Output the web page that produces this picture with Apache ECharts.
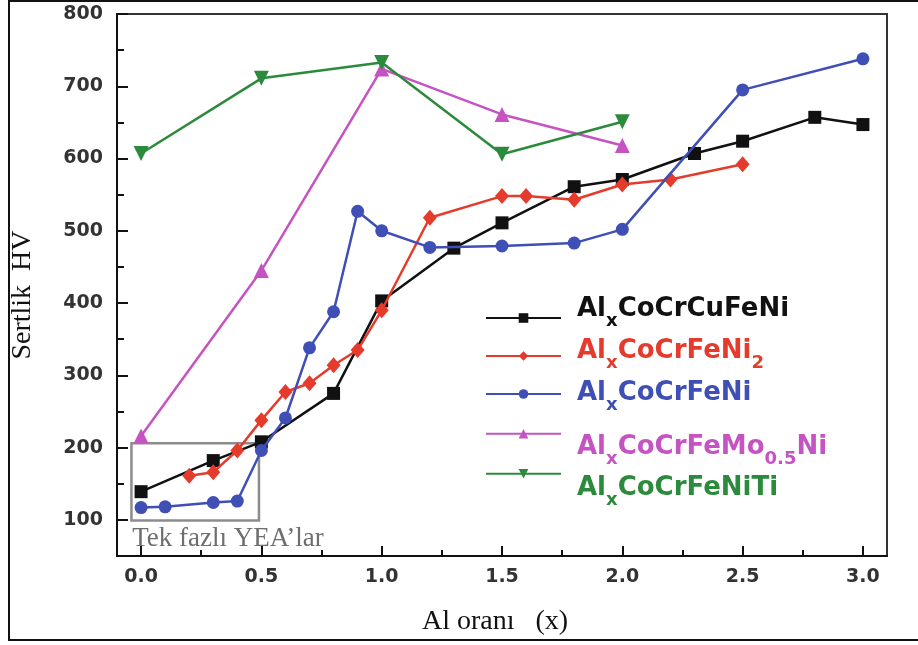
<!DOCTYPE html>
<html>
<head>
<meta charset="utf-8">
<script src="https://cdn.jsdelivr.net/npm/echarts@6/dist/echarts.min.js"></script>
<style>
html, body { margin: 0; padding: 0; background: #fff; }
#chart { width: 918px; height: 645px; }
</style>
</head>
<body>
<div id="chart"></div>
<script>
// Al ratio (x) and Vickers hardness (HV) for each high-entropy alloy family
const cuX  = [0, 0.3, 0.5, 0.8, 1.0, 1.3, 1.5, 1.8, 2.0, 2.3, 2.5, 2.8, 3.0];
const cuHV = [139, 182, 208, 275, 403, 476, 511, 561, 571, 607, 624, 657, 647];

const ni2X  = [0.2, 0.3, 0.4, 0.5, 0.6, 0.7, 0.8, 0.9, 1.0, 1.2, 1.5, 1.6, 1.8, 2.0, 2.2, 2.5];
const ni2HV = [161, 166, 196, 238, 277, 289, 314, 335, 390, 518, 548, 548, 543, 564, 571, 592];

const niX  = [0, 0.1, 0.3, 0.4, 0.5, 0.6, 0.7, 0.8, 0.9, 1.0, 1.2, 1.5, 1.8, 2.0, 2.5, 3.0];
const niHV = [117, 118, 124, 126, 196, 241, 338, 388, 527, 500, 477, 479, 483, 502, 695, 738];

const moX  = [0, 0.5, 1.0, 1.5, 2.0];
const moHV = [216, 445, 724, 661, 618];

const tiX  = [0, 0.5, 1.0, 1.5, 2.0];
const tiHV = [607, 711, 733, 606, 651];

// Alloy names: plain text for series, parts for sub/normal formatting in the legend
const seriesNames = ['AlxCoCrCuFeNi', 'AlxCoCrFeNi2', 'AlxCoCrFeNi', 'AlxCoCrFeMo0.5Ni', 'AlxCoCrFeNiTi'];
const nameParts = [
  [['m', 'Al'], ['s', 'x'], ['m', 'CoCrCuFeNi']],
  [['m', 'Al'], ['s', 'x'], ['m', 'CoCrFeNi'], ['s', '2']],
  [['m', 'Al'], ['s', 'x'], ['m', 'CoCrFeNi']],
  [['m', 'Al'], ['s', 'x'], ['m', 'CoCrFeMo'], ['s', '0.5'], ['m', 'Ni']],
  [['m', 'Al'], ['s', 'x'], ['m', 'CoCrFeNiTi']]
];

// Axis ticks
const xTicks = [0, 0.5, 1.0, 1.5, 2.0, 2.5, 3.0];
const xMinorTicks = [0.25, 0.75, 1.25, 1.75, 2.25, 2.75];
const yTicks = [100, 200, 300, 400, 500, 600, 700, 800];
const yMinorTicks = [150, 250, 350, 450, 550, 650, 750];

// Single-phase alloy region
const singlePhaseX = [-0.04, 0.49];
const singlePhaseHV = [99, 206];
const singlePhaseLabel = 'Tek fazlı YEA’lar';

const colors = ['#111111', '#e53b2c', '#3f4fb5', '#c653c2', '#2b8a3b'];
const symbols = ['rect', 'diamond', 'circle', 'triangle', 'triangle'];
const symbolSizes = [13, [14, 16], 13, 15, 15];
const symbolRotates = [0, 0, 0, 0, 180];

const seriesX = [cuX, ni2X, niX, moX, tiX];
const seriesY = [cuHV, ni2HV, niHV, moHV, tiHV];

const zip = (xs, ys) => xs.map((x, i) => [x, ys[i]]);

const X_MIN = -0.1, X_MAX = 3.1, Y_MIN = 50, Y_MAX = 800;

const tickFont = { fontFamily: 'DejaVu Sans', fontWeight: 'bold', fontSize: 19, color: '#333' };

const series = seriesNames.map((name, i) => {
  const s = {
    name: name,
    type: 'line',
    xAxisIndex: 0,
    yAxisIndex: 0,
    data: zip(seriesX[i], seriesY[i]),
    symbol: symbols[i],
    symbolSize: symbolSizes[i],
    symbolRotate: symbolRotates[i],
    showAllSymbol: true,
    lineStyle: { color: colors[i], width: 2.5 },
    itemStyle: { color: colors[i] },
    z: 3 + i,
    animation: false
  };
  if (i === 2) {
    s.markArea = {
      silent: true,
      itemStyle: { color: 'rgba(0,0,0,0)', borderColor: '#8c8c8c', borderWidth: 2.5 },
      label: {
        show: true,
        position: [0, '100%'],
        formatter: singlePhaseLabel,
        fontFamily: 'Liberation Serif',
        fontSize: 27,
        color: '#6e6e6e',
        padding: [4, 0, 0, 2]
      },
      data: [[
        { xAxis: singlePhaseX[0], yAxis: singlePhaseHV[1] },
        { xAxis: singlePhaseX[1], yAxis: singlePhaseHV[0] }
      ]]
    };
  }
  return s;
});

// Legend: one block per alloy; top position and text padding per row
const legendTops = [296, 338, 380, 429, 469];
const legendPad = [[0, 8], [0, 0], [8, 0], [36, 0], [38, 0]];

const legends = seriesNames.map((name, i) => {
  const rich = {
    m: { fontFamily: 'DejaVu Sans', fontWeight: 'bold', fontSize: 26, lineHeight: 26, padding: [0, 0, 10, 0], color: colors[i] },
    s: { fontFamily: 'DejaVu Sans', fontWeight: 'bold', fontSize: 18, lineHeight: 19, padding: [15, 0, 0, 0], color: colors[i] }
  };
  return {
    data: [name],
    orient: 'vertical',
    left: 485,
    top: legendTops[i],
    padding: 0,
    itemWidth: 75,
    itemHeight: 12,
    formatter: () => nameParts[i].map(p => '{' + p[0] + '|' + p[1] + '}').join(''),
    textStyle: { padding: [legendPad[i][0], 0, legendPad[i][1], 11], rich: rich }
  };
});

const chart = echarts.init(document.getElementById('chart'), null, { renderer: 'canvas' });

chart.setOption({
  animation: false,
  backgroundColor: '#ffffff',
  grid: {
    left: 117, top: 14, right: 31, bottom: 89,
    show: true, borderColor: '#333', borderWidth: 2, backgroundColor: 'transparent'
  },
  graphic: [{
    type: 'rect',
    shape: { x: 9, y: 1, width: 1000, height: 639 },
    style: { fill: 'none', stroke: '#111', lineWidth: 2 },
    silent: true,
    z: 100
  }],
  legend: legends,
  xAxis: [{
    type: 'value',
    min: X_MIN, max: X_MAX,
    name: 'Al oranı   (x)',
    nameLocation: 'middle',
    nameGap: 52,
    nameTextStyle: { fontFamily: 'Liberation Serif', fontSize: 28, color: '#111', padding: [0, 14, 0, 0] },
    axisLine: { show: true, onZero: false, lineStyle: { color: '#111', width: 2 } },
    axisTick: { show: true, inside: true, length: 10, customValues: xTicks, lineStyle: { color: '#111', width: 2 } },
    axisLabel: { show: true, customValues: xTicks, margin: 12, formatter: v => v.toFixed(1), ...tickFont },
    splitLine: { show: false }
  }, {
    type: 'value',
    position: 'bottom',
    min: X_MIN, max: X_MAX,
    axisLine: { show: false, onZero: false },
    axisTick: { show: true, inside: true, length: 6, customValues: xMinorTicks, lineStyle: { color: '#111', width: 2 } },
    axisLabel: { show: false },
    splitLine: { show: false }
  }],
  yAxis: [{
    type: 'value',
    min: Y_MIN, max: Y_MAX,
    name: 'Sertlik  HV',
    nameLocation: 'middle',
    nameRotate: 90,
    nameGap: 80,
    nameTextStyle: { fontFamily: 'Liberation Serif', fontSize: 28, color: '#111', padding: [0, 20, 0, 0] },
    axisLine: { show: true, onZero: false, lineStyle: { color: '#111', width: 2 } },
    axisTick: { show: true, inside: true, length: 11, customValues: yTicks, lineStyle: { color: '#111', width: 2 } },
    axisLabel: { show: true, customValues: yTicks, margin: 14, ...tickFont },
    splitLine: { show: false }
  }, {
    type: 'value',
    position: 'left',
    min: Y_MIN, max: Y_MAX,
    axisLine: { show: false, onZero: false },
    axisTick: { show: true, inside: true, length: 7, customValues: yMinorTicks, lineStyle: { color: '#111', width: 2 } },
    axisLabel: { show: false },
    splitLine: { show: false }
  }],
  series: series
});
</script>
</body>
</html>
